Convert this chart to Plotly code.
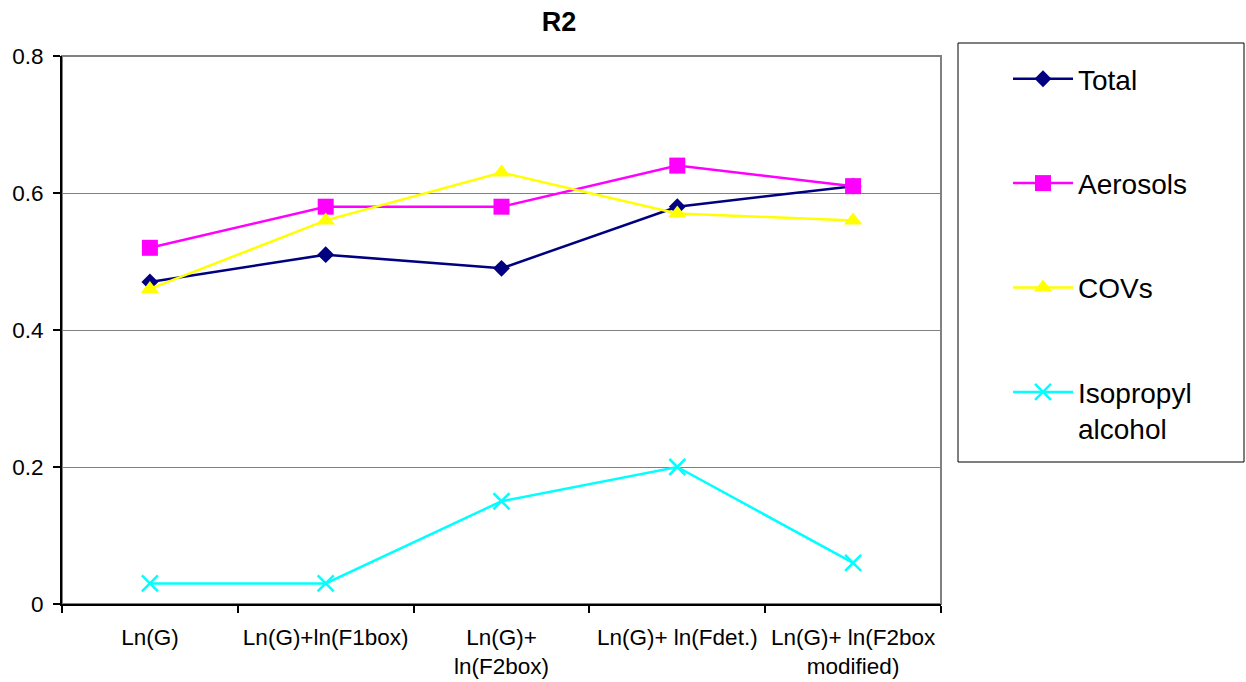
import plotly.graph_objects as go

# Model variants on the x axis
categories = [
    "Ln(G)",
    "Ln(G)+ln(F1box)",
    "Ln(G)+<br>ln(F2box)",
    "Ln(G)+ ln(Fdet.)",
    "Ln(G)+ ln(F2box<br>modified)",
]

# R2 values per series
total = [0.47, 0.51, 0.49, 0.58, 0.61]
aerosols = [0.52, 0.58, 0.58, 0.64, 0.61]
covs = [0.46, 0.56, 0.63, 0.57, 0.56]
isopropyl = [0.03, 0.03, 0.15, 0.20, 0.06]

FONT = "Liberation Sans, Arial, sans-serif"
TICK_SIZE = 22.5

series = [
    ("Total", total, "#000080", dict(symbol="diamond", size=13, color="#000080")),
    ("Aerosols", aerosols, "#FF00FF", dict(symbol="square", size=16, color="#FF00FF")),
    ("COVs", covs, "#FFFF00", dict(symbol="triangle-up", size=16, color="#FFFF00")),
    ("Isopropyl<br>alcohol", isopropyl, "#00FFFF",
     dict(symbol="x-thin", size=16, color="#00FFFF", line=dict(color="#00FFFF", width=2.5))),
]

fig = go.Figure()
for i, (name, vals, color, marker) in enumerate(series):
    fig.add_trace(go.Scatter(
        x=categories, y=vals, name=name, mode="lines+markers",
        line=dict(color=color, width=2.5), marker=marker,
        legendgroup=f"g{i}",
    ))

W, H = 1246, 682
L, R, T, B = 62, 305, 56, 78
pw, ph = W - L - R, H - T - B

def px_x(x):
    return (x - L) / pw

def px_y(y):
    return (H - B - y) / ph

fig.update_layout(
    width=W, height=H,
    margin=dict(l=L, r=R, t=T, b=B, pad=0, autoexpand=False),
    paper_bgcolor="white", plot_bgcolor="white",
    font=dict(family=FONT, size=TICK_SIZE, color="black"),
    title=dict(text="<b>R2</b>", x=559 / W, xref="container", xanchor="center",
               y=1 - 22 / H, yref="container", yanchor="middle",
               font=dict(size=27, family=FONT, color="black")),
    showlegend=True,
    legend=dict(
        x=px_x(1008), y=px_y(54), xanchor="left", yanchor="top",
        font=dict(size=28, family=FONT, color="black"),
        bgcolor="rgba(0,0,0,0)", borderwidth=0, itemwidth=60,
        tracegroupgap=65, traceorder="grouped", valign="top",
        maxheight=620,
    ),
    shapes=[
        # plot area frame
        dict(type="rect", xref="paper", yref="paper", x0=0, x1=1, y0=0, y1=1,
             line=dict(color="#808080", width=2), layer="below"),
        # legend frame
        dict(type="rect", xref="paper", yref="paper",
             x0=px_x(958), x1=px_x(1244), y0=px_y(462), y1=px_y(43),
             line=dict(color="black", width=1), fillcolor="rgba(0,0,0,0)"),
    ],
)

fig.update_xaxes(
    type="category", range=[-0.5, 4.5], tickson="boundaries",
    ticks="outside", ticklen=7, tickwidth=1.5, tickcolor="black",
    showline=True, linecolor="black", linewidth=2, showgrid=False,
    ticklabelstandoff=12, automargin=False,
    tickfont=dict(size=TICK_SIZE, family=FONT, color="black"),
)
fig.update_yaxes(
    range=[0, 0.8], dtick=0.2, tick0=0,
    ticks="outside", ticklen=7, tickwidth=1.5, tickcolor="black",
    showline=True, linecolor="black", linewidth=2,
    showgrid=True, gridcolor="#808080", gridwidth=1, zeroline=False,
    ticklabelstandoff=5, automargin=False,
    tickfont=dict(size=TICK_SIZE, family=FONT, color="black"),
)

fig.write_html("out.html")
